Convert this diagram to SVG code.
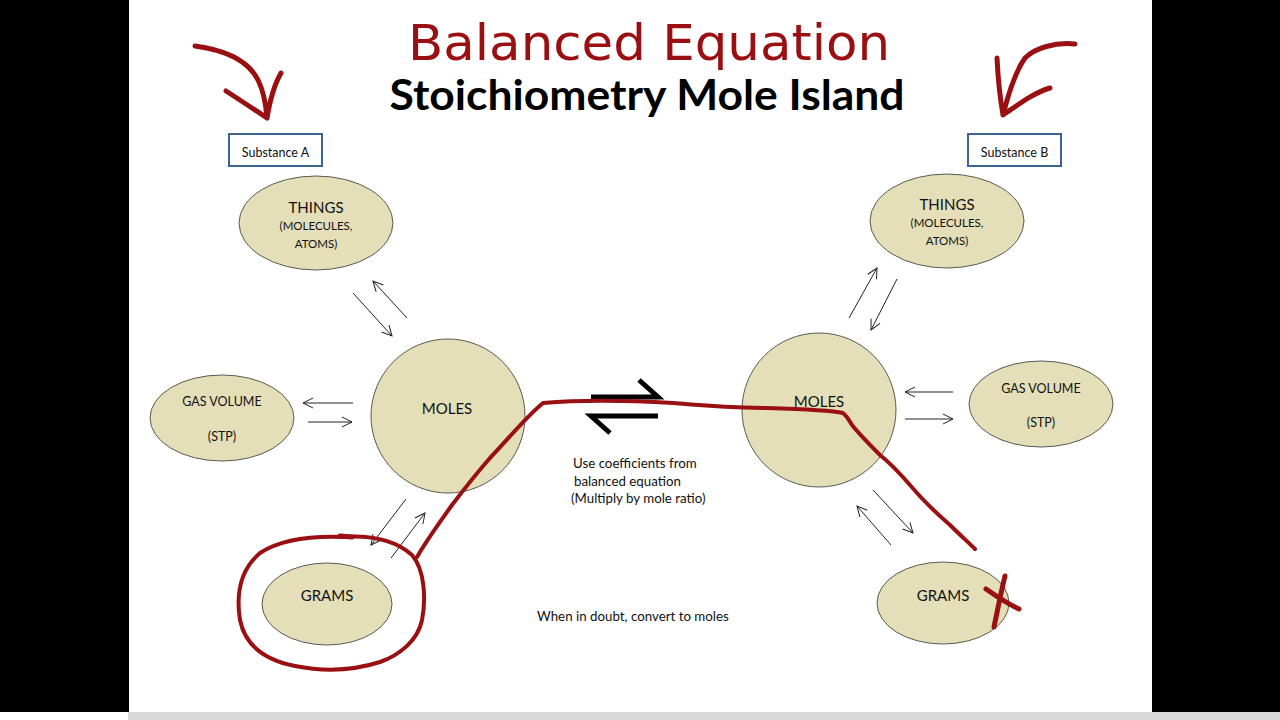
<svg xmlns="http://www.w3.org/2000/svg" width="1280" height="720" viewBox="0 0 1280 720">
<defs>
<style>
.bg{fill:#000}
.node{fill:#e4dfb9;stroke:#5a5a50;stroke-width:1}
.box{fill:#fff;stroke:#3d6491;stroke-width:2}
.t{font-family:Lato,"Liberation Sans",sans-serif;fill:#111;text-anchor:middle}
.note{font-family:Lato,"Liberation Sans",sans-serif;fill:#111;font-size:13.3px}
.conn{stroke:#222;stroke-width:1;fill:none;marker-end:url(#ah)}
.ink{stroke:#9a0f12;fill:none;stroke-linecap:round;stroke-linejoin:round}
</style>
<marker id="ah" viewBox="0 0 12 12" refX="11" refY="6" markerWidth="12" markerHeight="12" markerUnits="userSpaceOnUse" orient="auto">
<path d="M1,1 L11,6 L1,11" fill="none" stroke="#222" stroke-width="1"/>
</marker>
</defs>
<rect x="0" y="0" width="1280" height="720" fill="#fff"/>
<rect class="bg" x="0" y="0" width="129" height="712"/>
<rect class="bg" x="1152" y="0" width="128" height="712"/>
<rect x="128" y="712" width="1152" height="8" fill="#d9d9d9"/>

<text x="408" y="60" font-family="'DejaVu Sans',sans-serif" font-size="50" fill="#9a0f12" textLength="482" lengthAdjust="spacingAndGlyphs">Balanced Equation</text>
<text x="647" y="110" font-family="Lato,'Liberation Sans',sans-serif" font-weight="bold" font-size="42" fill="#000" text-anchor="middle" textLength="515" lengthAdjust="spacingAndGlyphs">Stoichiometry Mole Island</text>

<g id="substance-a"><rect class="box" x="229" y="134" width="93" height="32"/><text class="t" x="275.5" y="157" font-size="12.5">Substance A</text></g>
<g id="substance-b"><rect class="box" x="968" y="134" width="93" height="32"/><text class="t" x="1014.5" y="157" font-size="12.5">Substance B</text></g>

<g id="things-a"><ellipse class="node" cx="316" cy="223" rx="77" ry="47"/>
<text class="t" x="316" y="213" font-size="15">THINGS</text>
<text class="t" x="316" y="230" font-size="11.5">(MOLECULES,</text>
<text class="t" x="316" y="248" font-size="11.5">ATOMS)</text></g>
<g id="things-b"><ellipse class="node" cx="947" cy="221" rx="77" ry="47"/>
<text class="t" x="947" y="210" font-size="15">THINGS</text>
<text class="t" x="947" y="227" font-size="11.5">(MOLECULES,</text>
<text class="t" x="947" y="245" font-size="11.5">ATOMS)</text></g>
<g id="gas-a"><ellipse class="node" cx="222" cy="418" rx="72" ry="43"/>
<text class="t" x="222" y="406" font-size="12.5">GAS VOLUME</text>
<text class="t" x="222" y="441" font-size="12.5">(STP)</text></g>
<g id="gas-b"><ellipse class="node" cx="1041" cy="404" rx="72" ry="43"/>
<text class="t" x="1041" y="393" font-size="12.5">GAS VOLUME</text>
<text class="t" x="1041" y="427" font-size="12.5">(STP)</text></g>
<g id="moles-a"><circle class="node" cx="448" cy="416" r="77"/>
<text class="t" x="447" y="414" font-size="15">MOLES</text></g>
<g id="moles-b"><circle class="node" cx="819" cy="410" r="77"/>
<text class="t" x="819" y="407" font-size="15">MOLES</text></g>
<g id="grams-a"><ellipse class="node" cx="327" cy="604" rx="65" ry="41"/>
<text class="t" x="327" y="601" font-size="15">GRAMS</text></g>
<g id="grams-b"><ellipse class="node" cx="943" cy="603" rx="66" ry="41"/>
<text class="t" x="943" y="601" font-size="15">GRAMS</text></g>

<g id="connectors">
<line class="conn" x1="353" y1="293" x2="392" y2="336"/>
<line class="conn" x1="407" y1="318" x2="373" y2="281"/>
<line class="conn" x1="353" y1="403" x2="303" y2="403"/>
<line class="conn" x1="308" y1="422" x2="352" y2="422"/>
<line class="conn" x1="406" y1="499" x2="371" y2="545"/>
<line class="conn" x1="391" y1="558" x2="425" y2="513"/>
<line class="conn" x1="849" y1="318" x2="877" y2="268"/>
<line class="conn" x1="897" y1="279" x2="871" y2="330"/>
<line class="conn" x1="953" y1="392" x2="905" y2="392"/>
<line class="conn" x1="905" y1="419" x2="953" y2="419"/>
<line class="conn" x1="873" y1="490" x2="913" y2="533"/>
<line class="conn" x1="891" y1="545" x2="857" y2="506"/>
</g>

<g id="equilibrium" stroke="#000" stroke-width="5" fill="none" stroke-linecap="butt">
<path d="M591,397 L658,397 L639,380"/>
<path d="M658,416 L591,416 L610,433"/>
</g>

<text class="note" x="573" y="468">Use coefficients from</text>
<text class="note" x="574" y="486">balanced equation</text>
<text class="note" x="571" y="503">(Multiply by mole ratio)</text>
<text class="note" x="537" y="621">When in doubt, convert to moles</text>

<g id="annotations">
<path class="ink" stroke-width="5" d="M195,46 C225,50 248,60 258,80 C264,92 266,105 267,118 M226,91 C240,100 255,110 267,118 C270,100 274,85 281,73"/>
<path class="ink" stroke-width="5" d="M1075,44 C1055,42 1035,48 1025,58 C1015,72 1008,95 1003,115 M997,58 C998,78 1000,98 1003,115 C1018,105 1033,93 1050,88"/>
<path class="ink" stroke-width="4" d="M417,557 C428,538 440,522 452,505 C465,488 475,475 490,458 C510,437 525,418 543,403 C580,400 620,400 673,403 C700,405 715,407 767,408 C800,409 830,410 843,413 C848,417 850,422 852,425 C860,435 870,445 880,455 C890,463 897,470 910,485 C920,497 935,512 950,525 C960,535 968,542 975,549"/>
<path class="ink" stroke-width="4" d="M342,537 C370,535 395,540 412,555 C425,570 426,600 422,620 C418,640 400,655 380,662 C355,670 325,672 295,666 C265,660 245,645 240,620 C236,595 240,570 260,553 C280,540 310,536 342,537 Z"/>
<path class="ink" stroke-width="5" d="M340,536 L352,537"/>
<path class="ink" stroke-width="5" d="M1005,576 C1001,592 998,608 994,627 M986,589 C996,596 1008,604 1019,609"/>
</g>
</svg>
